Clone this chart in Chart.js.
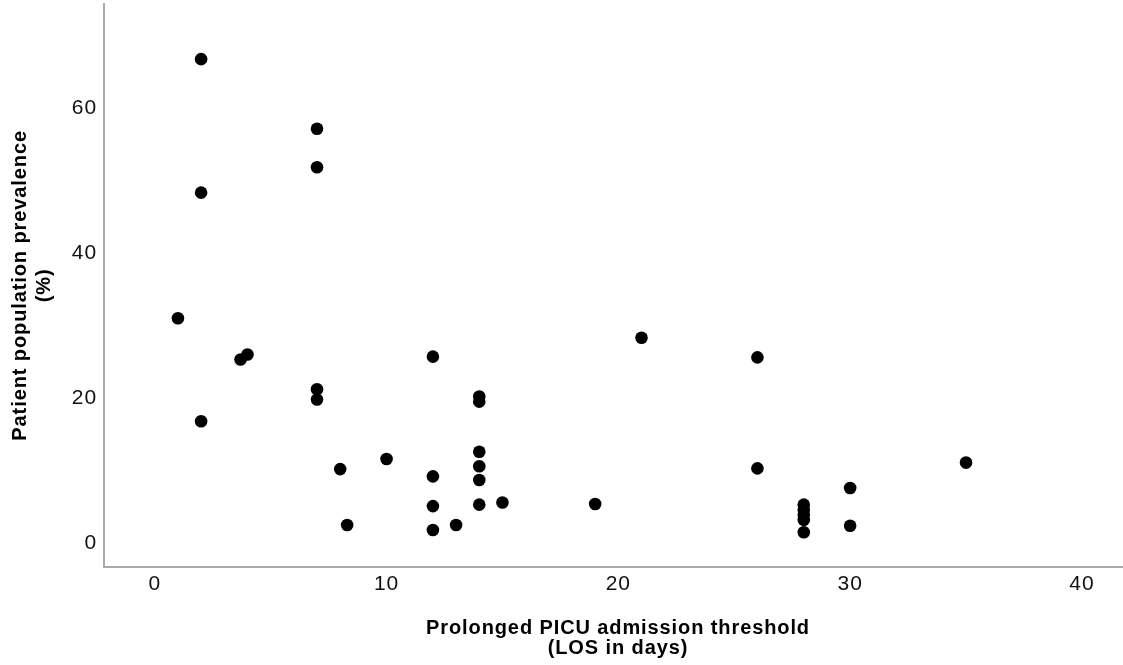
<!DOCTYPE html>
<html>
<head>
<meta charset="utf-8">
<script src="https://cdn.jsdelivr.net/npm/chart.js@4/dist/chart.umd.min.js"></script>
<style>
    html, body { margin: 0; background: #fff; overflow: hidden; }
    #wrap { width: 1123px; height: 665px; overflow: hidden; }
</style>
</head>
<body>
<!-- the x axis runs off the right edge of the picture, so the canvas is a bit wider than the page -->
<div id="wrap"><canvas id="scatter" width="1132" height="665"></canvas></div>
<script>
// LOS threshold (days) used by each study
const losThreshold = [2, 7, 7, 2, 1, 3.7, 4, 2, 7, 7, 8, 8.3, 10, 12, 12, 12, 12, 13,
    14, 14, 14, 14, 14, 14, 15, 19, 21, 26, 26, 28, 28, 28, 28, 28, 30, 30, 35];

// patient population prevalence (%)
const prevalence = [66.5, 56.9, 51.6, 48.1, 30.8, 25.1, 25.8, 16.6, 21.0, 19.6, 10.0, 2.3, 11.4, 25.5, 9.0, 4.9, 1.6, 2.3,
    20.0, 19.3, 12.4, 10.4, 8.5, 5.1, 5.4, 5.2, 28.1, 25.4, 10.1, 5.1, 4.4, 3.7, 3.0, 1.3, 7.4, 2.2, 10.9];

const xTicks = [0, 10, 20, 30, 40];
const yTicks = [0, 20, 40, 60];

const points = losThreshold.map((x, i) => ({ x: x, y: prevalence[i] }));

// the reference text is a bit wider than Liberation Sans, add some tracking
const letterSpacing = {
    id: 'letterSpacing',
    beforeDraw: (chart) => { chart.ctx.letterSpacing = '0.9px'; }
};

new Chart(
    document.getElementById('scatter'),
    {
        type: 'scatter',
        data: {
            datasets: [
                {
                    label: 'Studies',
                    data: points,
                    backgroundColor: '#000',
                    borderColor: '#000',
                    borderWidth: 0,
                    pointRadius: 6.3,
                    pointHoverRadius: 6.3,
                    clip: false
                }
            ]
        },
        plugins: [letterSpacing],
        options: {
            responsive: false,
            animation: false,
            layout: { autoPadding: false, padding: { top: 4, right: 0, left: 0, bottom: 0 } },
            plugins: {
                legend: { display: false },
                tooltip: { enabled: false }
            },
            scales: {
                x: {
                    type: 'linear',
                    min: -2.19,
                    max: 42.16,
                    afterFit: (scale) => {
                        scale.height = 98.3;
                        scale.paddingLeft = 0;
                        scale.paddingRight = 0;
                    },
                    afterBuildTicks: (scale) => { scale.ticks = xTicks.map(v => ({ value: v })); },
                    grid: { display: false, drawTicks: false },
                    border: { display: true, color: '#a9a9a9', width: 2 },
                    ticks: {
                        padding: 5,
                        color: '#111',
                        font: { family: 'Liberation Sans', size: 21 }
                    },
                    title: {
                        display: true,
                        text: ['Prolonged PICU admission threshold', '(LOS in days)'],
                        color: '#000',
                        padding: { top: 0, bottom: 6.7 },
                        font: { family: 'Liberation Sans', size: 20, weight: 'bold', lineHeight: 1.0 }
                    }
                },
                y: {
                    type: 'linear',
                    min: -3.45,
                    max: 74.1,
                    afterFit: (scale) => {
                        scale.width = 104;
                        scale.paddingTop = 0;
                        scale.paddingBottom = 0;
                    },
                    afterBuildTicks: (scale) => { scale.ticks = yTicks.map(v => ({ value: v })); },
                    grid: { display: false, drawTicks: false },
                    border: { display: true, color: '#a9a9a9', width: 2 },
                    ticks: {
                        padding: 7,
                        labelOffset: 2,
                        color: '#111',
                        font: { family: 'Liberation Sans', size: 21 }
                    },
                    title: {
                        display: true,
                        text: ['Patient population prevalence', '(%)'],
                        color: '#000',
                        padding: { top: 8, bottom: 0 },
                        font: { family: 'Liberation Sans', size: 20, weight: 'bold', lineHeight: 1.2 }
                    }
                }
            }
        }
    }
);
</script>
</body>
</html>
